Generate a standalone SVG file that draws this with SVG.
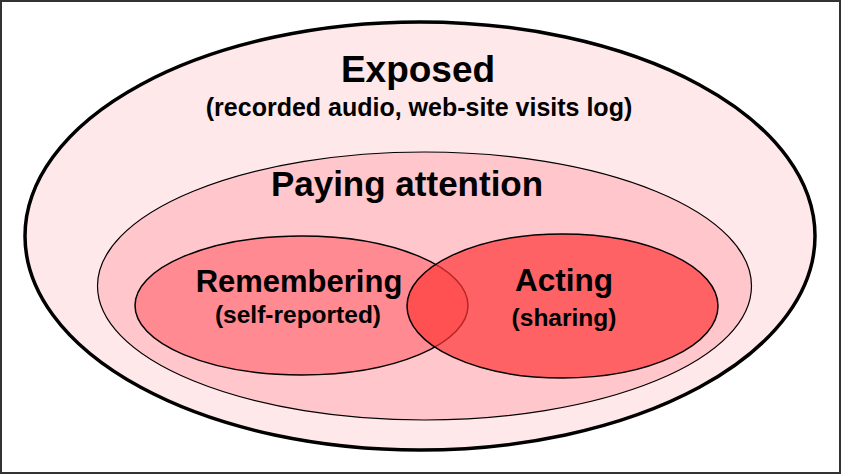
<svg xmlns="http://www.w3.org/2000/svg" width="841" height="474" viewBox="0 0 841 474">
<style>
text{font-family:"Liberation Sans",Arial,sans-serif;font-weight:bold;fill:#000;text-anchor:middle}
.t{font-size:35px}
.s{font-size:24.5px}
</style>
<rect x="1" y="1" width="839" height="472" fill="#fff" stroke="#333" stroke-width="2"/>
<g id="exposed">
<ellipse cx="420" cy="236" rx="395" ry="214" fill="#ffe8ea" stroke="#000" stroke-width="3.5"/>
<text class="t" x="418" y="82" style="font-size:37px">Exposed</text>
<text class="s" x="419" y="116" style="font-size:25px">(recorded audio, web-site visits log)</text>
</g>
<g id="paying">
<ellipse cx="424.5" cy="286" rx="327" ry="134" fill="#ffc6cc" stroke="#000" stroke-width="1.2"/>
<text class="t" x="407" y="196">Paying attention</text>
</g>
<g id="remembering">
<ellipse cx="301.5" cy="305.5" rx="166.5" ry="69.5" fill="#ff8a92" stroke="#000" stroke-width="1.5"/>
<text class="t" x="299" y="292" style="font-size:31px">Remembering</text>
<text class="s" x="298" y="323">(self-reported)</text>
</g>
<g id="acting">
<ellipse cx="562.5" cy="306" rx="155.5" ry="72" fill="#ff3838" fill-opacity="0.7" stroke="#000" stroke-width="1.5"/>
<text class="t" x="564" y="291" style="font-size:31.5px">Acting</text>
<text class="s" x="564" y="326">(sharing)</text>
</g>
<g id="connectors"/>
</svg>
